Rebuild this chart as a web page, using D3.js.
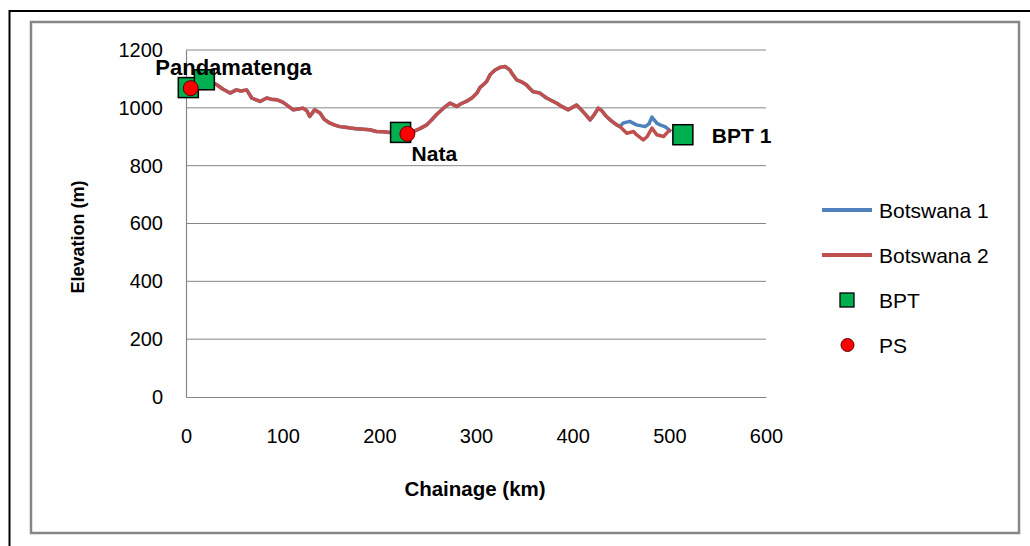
<!DOCTYPE html>
<html><head><meta charset="utf-8">
<script src="https://cdn.jsdelivr.net/npm/d3@7"></script>
<style>body{margin:0;background:#fff}svg{display:block}text{font-family:"Liberation Sans",Arial,sans-serif}</style>
</head><body><svg id="c" width="1030" height="546"></svg>
<script>
// ---- data ----
const b1Km   = [0,10,20,29,31.7,38,45.5,52,57,62.8,68,72,76.6,83.5,88,93.8,100,104,111,116,121,125,128,133,138.6,143,149,154,159,165,170,176,183,190,197,204,211,218,222,229,235,242,249,254,259,266,273,280,285,290,296,301,304,307.6,311,314.5,319.7,325,330,335,338,342,347,352,356,359,366,373,380,384,388.6,395.5,400,404,409,413,418,422,426.5,430,435,440,445.5,449,452,459,466,475,479,482,487,491,495.5,502];
const b1Elev = [1070,1085,1090,1085,1080,1065,1051,1062,1058,1062,1034,1028,1022,1034,1030,1028,1020,1010,993,996,999,990,970,993,982,960,947,940,935,933,930,928,926,924,918,917,915,912,912,910,918,928,941,958,976,998,1016,1005,1015,1022,1035,1051,1070,1080,1091,1114,1131,1140,1143,1131,1115,1097,1090,1080,1066,1056,1051,1034,1022,1015,1005,993,1002,1010,993,978,958,975,999,990,970,955,941,935,947,953,941,935,945,968,947,940,935,918];
const b2Km   = [0,10,20,29,31.7,38,45.5,52,57,62.8,68,72,76.6,83.5,88,93.8,100,104,111,116,121,125,128,133,138.6,143,149,154,159,165,170,176,183,190,197,204,211,218,222,229,235,242,249,254,259,266,273,280,285,290,296,301,304,307.6,311,314.5,319.7,325,330,335,338,342,347,352,356,359,366,373,380,384,388.6,395.5,400,404,409,413,418,422,426.5,430,435,440,445.5,449,452,456,463,466,473,477,482,487,494,498,501];
const b2Elev = [1070,1085,1090,1085,1080,1065,1051,1062,1058,1062,1034,1028,1022,1034,1030,1028,1020,1010,993,996,999,990,970,993,982,960,947,940,935,933,930,928,926,924,918,917,915,912,912,910,918,928,941,958,976,998,1016,1005,1015,1022,1035,1051,1070,1080,1091,1114,1131,1140,1143,1131,1115,1097,1090,1080,1066,1056,1051,1034,1022,1015,1005,993,1002,1010,993,978,958,975,999,990,970,955,941,935,925,912,918,907,889,900,930,907,901,915,926];
const bptKm   = [2.4, 19, 222, 514];
const bptElev = [1070, 1097, 915, 907];
const psKm    = [4.9, 229];
const psElev  = [1068, 910];
const placeNames = ["Pandamatenga", "Nata", "BPT 1"];
const placeBpt   = [0, 2, 3];           // index into BPT points
const xTicks = [0,100,200,300,400,500,600];
const yTicks = [0,200,400,600,800,1000,1200];
const seriesNames = ["Botswana 1","Botswana 2","BPT","PS"];

// ---- layout ----
const svg = d3.select("#c");
const x = d3.scaleLinear().domain([0,600]).range([186,766]);
const y = d3.scaleLinear().domain([0,1200]).range([397,50]);
const blue="#4F81BD", red="#C0504D", green="#00B050", dot="#FF0000";

// frames
svg.append("path").attr("d","M9.5,546V11H1030").attr("fill","none").attr("stroke","#000").attr("stroke-width",2);
svg.append("rect").attr("x",31).attr("y",22).attr("width",988).attr("height",511)
  .attr("fill","none").attr("stroke","#868686").attr("stroke-width",2.5);

// gridlines
svg.append("g").selectAll("line").data(yTicks.filter(d=>d>0)).join("line")
  .attr("x1",x(0)).attr("x2",x(600)).attr("y1",d=>y(d)).attr("y2",d=>y(d))
  .attr("stroke","#868686").attr("stroke-width",1);

// axes
const yAxis = svg.append("g").attr("transform",`translate(${x(0)},0)`)
  .call(d3.axisLeft(y).tickValues(yTicks).tickFormat(d3.format("d")).tickSize(0).tickPadding(23));
const xAxis = svg.append("g").attr("transform",`translate(0,${y(0)})`)
  .call(d3.axisBottom(x).tickValues(xTicks).tickFormat(d3.format("d")).tickSize(0).tickPadding(32));
[yAxis,xAxis].forEach(a=>{
  a.select(".domain").attr("stroke","#868686").attr("stroke-width",1.2);
  a.selectAll("text").attr("font-size",20).attr("fill","#000").attr("font-family","'Liberation Sans',Arial,sans-serif");
});

// axis titles
svg.append("text").attr("x",475).attr("y",496).attr("text-anchor","middle")
  .attr("font-size",20.5).attr("font-weight","bold").text("Chainage (km)");
svg.append("text").attr("transform","translate(84,237) rotate(-90)").attr("text-anchor","middle")
  .attr("font-size",18).attr("font-weight","bold").text("Elevation (m)");

// lines
const line = d3.line().x(d=>x(d[0])).y(d=>y(d[1]));
svg.append("path").datum(d3.zip(b1Km,b1Elev)).attr("d",line)
  .attr("fill","none").attr("stroke",blue).attr("stroke-width",3.5).attr("stroke-linejoin","round");
svg.append("path").datum(d3.zip(b2Km,b2Elev)).attr("d",line)
  .attr("fill","none").attr("stroke",red).attr("stroke-width",3.5).attr("stroke-linejoin","round");

// BPT squares
const sq = 20;
svg.append("g").selectAll("rect").data(d3.zip(bptKm,bptElev)).join("rect")
  .attr("x",d=>x(d[0])-sq/2).attr("y",d=>y(d[1])-sq/2).attr("width",sq).attr("height",sq)
  .attr("fill",green).attr("stroke","#000").attr("stroke-width",1.5);
// PS circles
svg.append("g").selectAll("circle").data(d3.zip(psKm,psElev)).join("circle")
  .attr("cx",d=>x(d[0])).attr("cy",d=>y(d[1])).attr("r",7.5)
  .attr("fill",dot).attr("stroke","#5a0000").attr("stroke-width",1);

// place labels
const labOff = [[-33,-13],[11,29],[29,8]];
svg.append("g").selectAll("text").data(placeNames).join("text")
  .attr("x",(d,i)=>x(bptKm[placeBpt[i]])+labOff[i][0])
  .attr("y",(d,i)=>y(bptElev[placeBpt[i]])+labOff[i][1])
  .attr("font-size",(d,i)=>i===0?22:21).attr("font-weight","bold").text(d=>d);

// legend
const lg = svg.append("g");
const ly = [210,255,300,345];
seriesNames.forEach((n,i)=>{
  if(i<2){
    lg.append("line").attr("x1",822).attr("x2",872).attr("y1",ly[i]).attr("y2",ly[i])
      .attr("stroke",i===0?blue:red).attr("stroke-width",4);
  } else if(i===2){
    lg.append("rect").attr("x",840).attr("y",ly[i]-7).attr("width",14).attr("height",14)
      .attr("fill",green).attr("stroke","#000").attr("stroke-width",1.3);
  } else {
    lg.append("circle").attr("cx",847.5).attr("cy",ly[i]).attr("r",6.5)
      .attr("fill",dot).attr("stroke","#5a0000").attr("stroke-width",1);
  }
  lg.append("text").attr("x",879).attr("y",ly[i]+7.5).attr("font-size",21).text(n);
});
</script></body></html>
